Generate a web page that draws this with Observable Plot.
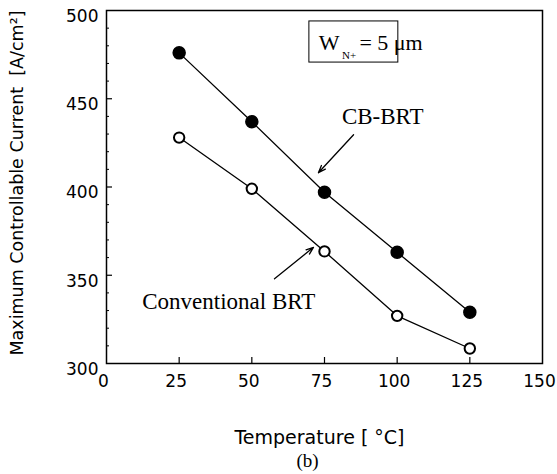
<!DOCTYPE html>
<html><head><meta charset="utf-8">
<script src="https://cdn.jsdelivr.net/npm/d3@7"></script>
<script src="https://cdn.jsdelivr.net/npm/@observablehq/plot@0.6"></script>
<style>body{margin:0;background:#fff}#chart svg{display:block}</style>
</head><body><div id="chart"></div>
<script>
const temperatures = [25, 50, 75, 100, 125];
const cbBrt = [476, 437, 397, 363, 329];
const conventionalBrt = [428, 399, 363.5, 327, 308.5];
const xTicks = [0, 25, 50, 75, 100, 125, 150];
const xInnerTicks = [25, 50, 75, 100, 125];
const yTicks = [300, 350, 400, 450, 500];
const yInnerTicks = [350, 400, 450];
const yMinorTicks = [310, 320, 330, 340, 360, 370, 380, 390, 410, 420, 430, 440, 460, 470, 480, 490];
const xLabel = "Temperature [ \u00B0C]";
const yLabel = "Maximum Controllable Current  [A/cm\u00B2]";
const caption = "(b)";
// annotation anchors (data units)
const boxExtent = [{x1: 69.8, x2: 100.4, y1: 470.5, y2: 493.8}];
const boxTexts = [
  {x: 73.0, y: 481.8, text: "W", size: 22},
  {x: 81.0, y: 474.3, text: "N+", size: 11},
  {x: 87.0, y: 481.8, text: "= 5 \u03BCm", size: 22}
];
const seriesLabels = [
  {x: 81.0, y: 440.0, text: "CB-BRT"},
  {x: 12.3, y: 334.8, text: "Conventional BRT"}
];
const arrows = [
  {x1: 85.0, y1: 429.6, x2: 72.9, y2: 408.1},
  {x1: 57.8, y1: 348.0, x2: 71.2, y2: 365.8}
];

const cbData = temperatures.map((t, i) => ({t, v: cbBrt[i]}));
const convData = temperatures.map((t, i) => ({t, v: conventionalBrt[i]}));
const serif = "'Liberation Serif', 'Times New Roman', serif";

const chart = Plot.plot({
  width: 557, height: 474,
  marginLeft: 106, marginRight: 15, marginTop: 10, marginBottom: 111,
  style: {fontFamily: "'DejaVu Sans', sans-serif", fontSize: "17px", color: "black", background: "white"},
  x: {domain: [0, 150]},
  y: {domain: [300, 500]},
  marks: [
    Plot.axisY({ticks: yTicks, tickSize: 0, tickPadding: 8, dy: 6, label: null, fontSize: 17}),
    Plot.axisY({ticks: yInnerTicks, tickSize: -6, tickFormat: () => "", label: null, strokeWidth: 1.2}),
    Plot.axisY({ticks: yMinorTicks, tickSize: -3, tickFormat: () => "", label: null, strokeWidth: 1}),
    Plot.axisX({ticks: xTicks, tickSize: 0, tickPadding: 11, dx: -3, label: null, fontSize: 17}),
    Plot.axisX({ticks: xInnerTicks, tickSize: -6, tickFormat: () => "", label: null, strokeWidth: 1.2}),
    Plot.frame({stroke: "black", strokeWidth: 1.5}),
    Plot.line(cbData, {x: "t", y: "v", stroke: "black", strokeWidth: 1.3}),
    Plot.line(convData, {x: "t", y: "v", stroke: "black", strokeWidth: 1.3}),
    Plot.dot(cbData, {x: "t", y: "v", r: 6, fill: "black", stroke: "black"}),
    Plot.dot(convData, {x: "t", y: "v", r: 5.2, fill: "white", stroke: "black", strokeWidth: 2}),
    Plot.rect(boxExtent, {x1: "x1", x2: "x2", y1: "y1", y2: "y2", fill: "white", stroke: "black", strokeWidth: 1}),
    Plot.text(boxTexts.filter(d => d.size > 12), {x: "x", y: "y", text: "text", textAnchor: "start", fontFamily: serif, fontSize: 22, fill: "black"}),
    Plot.text(boxTexts.filter(d => d.size <= 12), {x: "x", y: "y", text: "text", textAnchor: "start", fontFamily: serif, fontSize: 11, fill: "black"}),
    Plot.text(seriesLabels, {x: "x", y: "y", text: "text", textAnchor: "start", fontFamily: serif, fontSize: 23, fill: "black"}),
    Plot.arrow(arrows, {x1: "x1", y1: "y1", x2: "x2", y2: "y2", stroke: "black", strokeWidth: 1.3, headLength: 9, headAngle: 40}),
    Plot.text([yLabel], {frameAnchor: "left", textAnchor: "middle", lineAnchor: "middle", rotate: -90, dx: -89, dy: -4, fontSize: 17.5, fill: "black"}),
    Plot.text([xLabel], {frameAnchor: "bottom", textAnchor: "middle", lineAnchor: "middle", dx: -5, dy: 74, fontSize: 19, fill: "black"}),
    Plot.text([caption], {frameAnchor: "bottom", textAnchor: "middle", lineAnchor: "middle", dx: -17, dy: 97, fontFamily: serif, fontSize: 19, fill: "black"})
  ]
});
document.getElementById("chart").appendChild(chart);
</script>
</body></html>
